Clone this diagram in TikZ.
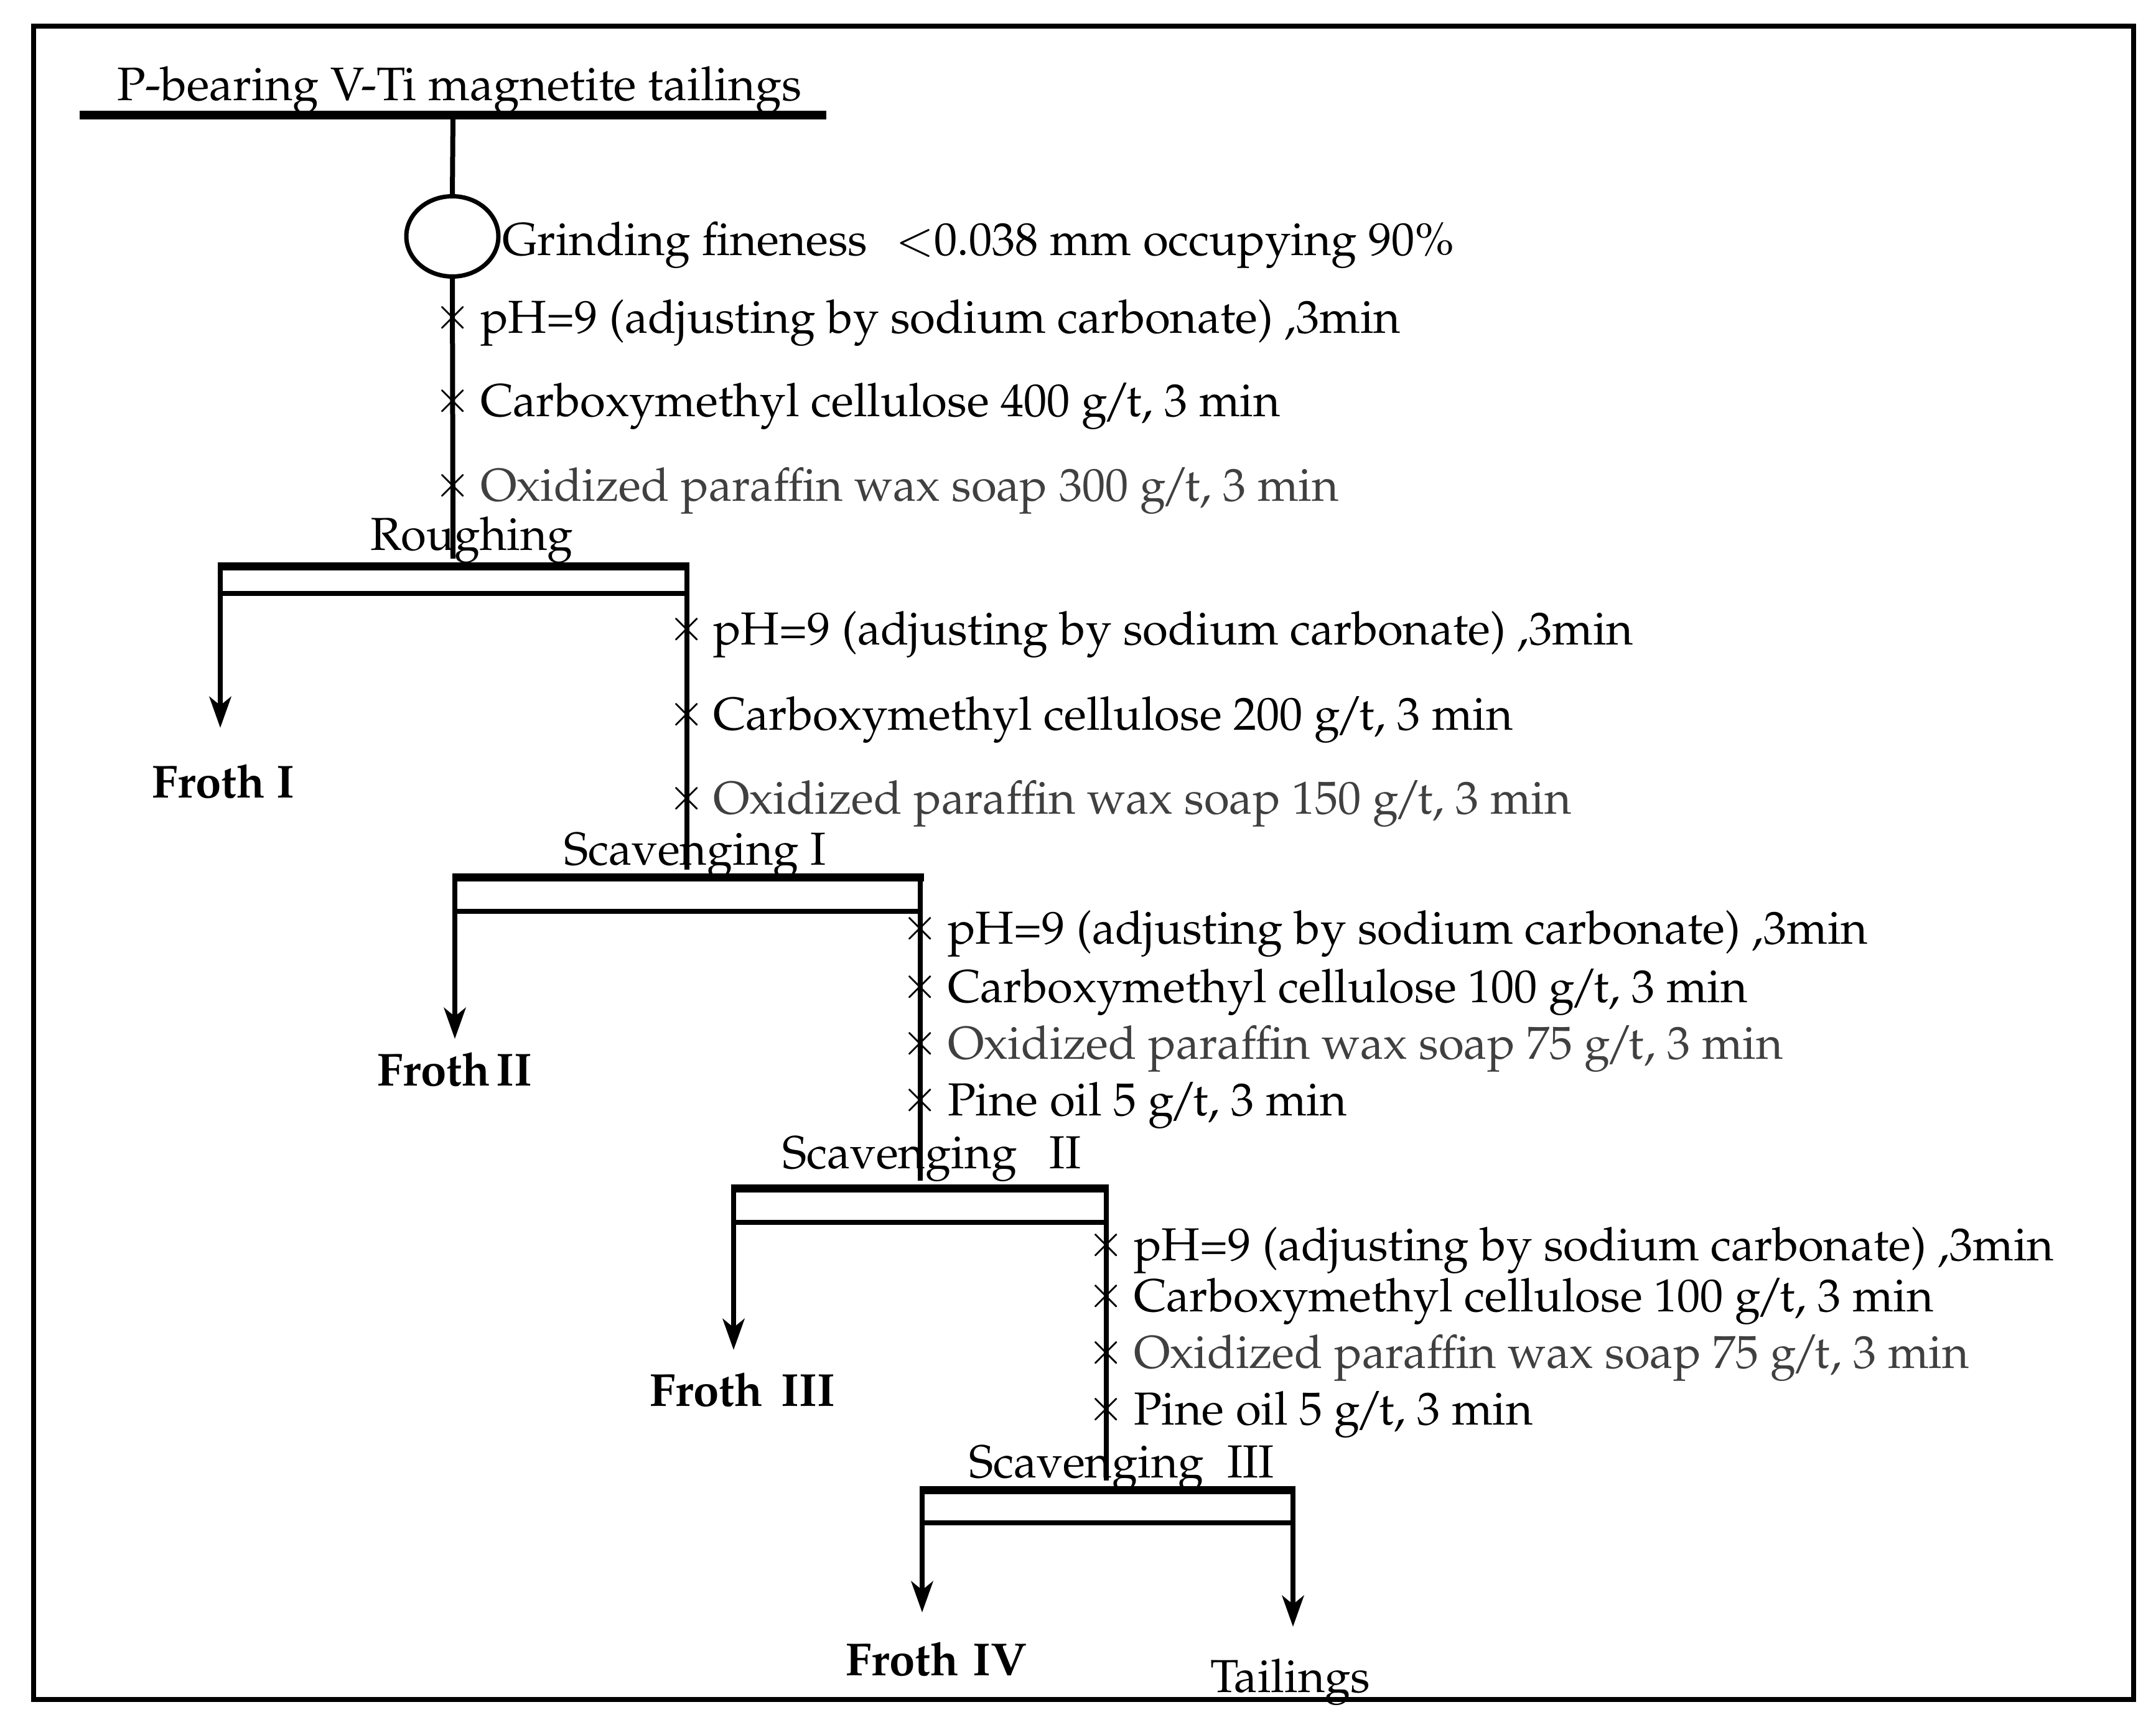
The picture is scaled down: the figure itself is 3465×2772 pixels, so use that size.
\documentclass[tikz,border=0pt]{standalone}
\usepackage[T1]{fontenc}
\usepackage{mathpazo}
\usetikzlibrary{arrows.meta,shapes.geometric}
\newcommand{\gt}{g\kern-0.1em/\kern-0.1em t}
\begin{document}
\begin{tikzpicture}[x=0.25pt,y=-0.25pt,
  every node/.style={inner sep=0pt,outer sep=0pt},
  lbl/.style={anchor=base west,font=\fontsize{18.6pt}{20pt}\selectfont},
  greylbl/.style={lbl,text=black!75},
  frothlbl/.style={anchor=base west,font=\fontsize{18.6pt}{20pt}\selectfont\bfseries},
  xmark/.style={font=\fontsize{18pt}{18pt}\selectfont},
  flow/.style={line width=2pt},
  topbar/.style={line width=3.25pt},
  sepline/.style={line width=2pt},
  arr/.style={flow,-{Stealth[length=12.5pt,width=8.75pt,inset=3.5pt]}}]
\useasboundingbox (0,0) rectangle (3465,2772);
\fill[white] (0,0) rectangle (3465,2772);
\draw[line width=2pt] (54,42) rectangle (3429,2732);

% feed
\node[lbl,font=\fontsize{18.9pt}{20pt}\selectfont] (title) at (188,162) {P-bearing V-Ti magnetite tailings};
\coordinate (tl-l) at (128,185);
\coordinate (tl-r) at (1328,185);
\draw[line width=3.5pt] (tl-l) -- (tl-r);
\coordinate (feedtop) at (728,185);
\node[draw,ellipse,line width=1.75pt,minimum width=37pt,minimum height=32.25pt] (mill) at (727,380) {};
\draw[flow] (feedtop) -- (mill.north);
\coordinate (r-in) at (728,898);
\draw[flow] (mill.south) -- (r-in);
\node[lbl] (grind) at (807,410) {Grinding fineness\hspace{0.6em}$<$0.038 mm occupying 90\%};

% reagents before roughing
\node[xmark] (xa1) at (728,511) {$\times$};
\node[lbl] (a1) at (772,535) {pH=9 (adjusting by sodium carbonate) ,3min};
\node[xmark] (xa2) at (728,645) {$\times$};
\node[lbl] (a2) at (772,669) {Carboxymethyl cellulose 400 \gt, 3 min};
\node[xmark] (xa3) at (728,781) {$\times$};
\node[greylbl] (a3) at (772,805) {Oxidized paraffin wax soap 300 \gt, 3 min};

% Roughing
\coordinate (r-tl) at (354,910);
\coordinate (r-tr) at (1104,910);
\coordinate (r-bl) at (354,954);
\coordinate (r-br) at (1104,954);
\coordinate (r-out) at (354,1170);
\draw[topbar] ([xshift=-1pt]r-tl) -- ([xshift=1pt]r-tr);
\draw[sepline] (r-bl) -- (r-br);
\draw[arr] (r-tl) -- (r-out);
\node[lbl] (rough) at (595,884) {Roughing};
\node[frothlbl] (f1) at (244,1282) {Froth I};

% reagents before scavenging I
\node[xmark] (xb1) at (1104,1012) {$\times$};
\node[lbl] (b1) at (1146,1036) {pH=9 (adjusting by sodium carbonate) ,3min};
\node[xmark] (xb2) at (1104,1149) {$\times$};
\node[lbl] (b2) at (1146,1173) {Carboxymethyl cellulose 200 \gt, 3 min};
\node[xmark] (xb3) at (1104,1284) {$\times$};
\node[greylbl] (b3) at (1146,1308) {Oxidized paraffin wax soap 150 \gt, 3 min};

% Scavenging I
\coordinate (s1-in) at (1104,1398);
\draw[flow] (r-tr) -- (s1-in);
\coordinate (s1-tl) at (731,1410);
\coordinate (s1-tr) at (1479,1410);
\coordinate (s1-bl) at (731,1465);
\coordinate (s1-br) at (1479,1465);
\coordinate (s1-out) at (731,1670);
\draw[topbar] ([xshift=-1pt]s1-tl) -- ([xshift=1.5pt]s1-tr);
\draw[sepline] (s1-bl) -- (s1-br);
\draw[arr] (s1-tl) -- (s1-out);
\node[lbl] (scav1) at (906,1390) {Scavenging I};
\node[frothlbl] (f2) at (606,1745) {Froth \kern-0.12em II};

% reagents before scavenging II
\node[xmark] (xc1) at (1479,1493) {$\times$};
\node[lbl] (c1) at (1523,1517) {pH=9 (adjusting by sodium carbonate) ,3min};
\node[xmark] (xc2) at (1479,1587) {$\times$};
\node[lbl] (c2) at (1523,1611) {Carboxymethyl cellulose 100 \gt, 3 min};
\node[xmark] (xc3) at (1479,1678) {$\times$};
\node[greylbl] (c3) at (1523,1702) {Oxidized paraffin wax soap 75 \gt, 3 min};
\node[xmark] (xc4) at (1479,1769) {$\times$};
\node[lbl] (c4) at (1523,1793) {Pine oil 5 \gt, 3 min};

% Scavenging II
\coordinate (s2-in) at (1479,1898);
\draw[flow] (s1-tr) -- (s2-in);
\coordinate (s2-tl) at (1179,1910);
\coordinate (s2-tr) at (1778,1910);
\coordinate (s2-bl) at (1179,1965);
\coordinate (s2-br) at (1778,1965);
\coordinate (s2-out) at (1179,2170);
\draw[topbar] ([xshift=-1pt]s2-tl) -- ([xshift=1pt]s2-tr);
\draw[sepline] (s2-bl) -- (s2-br);
\draw[arr] (s2-tl) -- (s2-out);
\node[lbl] (scav2) at (1257,1878) {Scavenging\hspace{0.7em}II};
\node[frothlbl] (f3) at (1044,2260) {Froth\hspace{0.4em}III};

% reagents before scavenging III
\node[xmark] (xd1) at (1778,2002) {$\times$};
\node[lbl] (d1) at (1822,2026) {pH=9 (adjusting by sodium carbonate) ,3min};
\node[xmark] (xd2) at (1778,2084) {$\times$};
\node[lbl] (d2) at (1822,2108) {Carboxymethyl cellulose 100 \gt, 3 min};
\node[xmark] (xd3) at (1778,2175) {$\times$};
\node[greylbl] (d3) at (1822,2199) {Oxidized paraffin wax soap 75 \gt, 3 min};
\node[xmark] (xd4) at (1778,2266) {$\times$};
\node[lbl] (d4) at (1822,2290) {Pine oil 5 \gt, 3 min};

% Scavenging III
\coordinate (s3-in) at (1778,2380);
\draw[flow] (s2-tr) -- (s3-in);
\coordinate (s3-tl) at (1482,2395);
\coordinate (s3-tr) at (2078,2395);
\coordinate (s3-bl) at (1482,2448);
\coordinate (s3-br) at (2078,2448);
\coordinate (s3-out) at (1482,2592);
\coordinate (s3-tail) at (2078,2615);
\draw[topbar] ([xshift=-1pt]s3-tl) -- ([xshift=1pt]s3-tr);
\draw[sepline] (s3-bl) -- (s3-br);
\draw[arr] (s3-tl) -- (s3-out);
\draw[arr] (s3-tr) -- (s3-tail);
\node[lbl] (scav3) at (1557,2375) {Scavenging\hspace{0.5em}III};
\node[frothlbl] (f4) at (1359,2693) {Froth\hspace{0.3em}IV};
\node[lbl] (tail) at (1945,2720) {Tailings};
\end{tikzpicture}
\end{document}
